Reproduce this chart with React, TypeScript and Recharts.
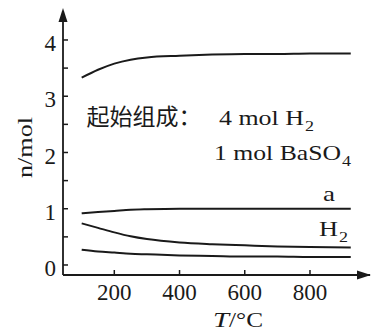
import { LineChart, Line, XAxis, YAxis } from "recharts";

const temps = [100, 150, 200, 250, 300, 400, 500, 600, 700, 800, 925];
const topCurve = [3.33, 3.47, 3.58, 3.65, 3.69, 3.72, 3.74, 3.75, 3.75, 3.76, 3.76];
const curveA = [0.92, 0.94, 0.96, 0.98, 0.99, 1.0, 1.0, 1.0, 1.0, 1.0, 1.0];
const curveH2 = [0.74, 0.66, 0.58, 0.51, 0.46, 0.4, 0.37, 0.35, 0.33, 0.32, 0.31];
const bottomCurve = [0.27, 0.24, 0.22, 0.2, 0.19, 0.17, 0.16, 0.15, 0.15, 0.14, 0.14];

const xTicks = [200, 400, 600, 800];
const yTicks = [0, 0.5, 1, 1.5, 2, 2.5, 3, 3.5, 4];

const data = temps.map((t, i) => ({
  t,
  top: topCurve[i],
  a: curveA[i],
  h2: curveH2[i],
  bottom: bottomCurve[i],
}));

const ink = "#1a1a1a";
const serif = "'Liberation Serif', 'DejaVu Serif', serif";
const cjk = "'Noto Sans CJK SC', sans-serif";
const MARGIN = 8;

function YTick(props: any) {
  const { x, y, payload } = props;
  const ax = x + MARGIN;
  const v = payload.value;
  const major = Number.isInteger(v);
  return (
    <g>
      <line x1={ax} y1={y} x2={ax + 5} y2={y} stroke={ink} strokeWidth={1.5} />
      {major && (
        <text x={ax - 7} y={y + 3} dy="0.35em" textAnchor="end" fontFamily={serif} fontSize={23} fill={ink}>
          {v}
        </text>
      )}
    </g>
  );
}

function XTick(props: any) {
  const { x, y, payload } = props;
  const ay = y - MARGIN;
  return (
    <g>
      <line x1={x} y1={ay} x2={x} y2={ay - 5} stroke={ink} strokeWidth={1.5} />
      <text x={x} y={ay + 9} dy="0.71em" textAnchor="middle" fontFamily={serif} fontSize={23} fill={ink}>
        {payload.value}
      </text>
    </g>
  );
}

// stretched serif text, the reference font runs wider than Liberation Serif
function Wide(props: any) {
  const { x, y, w, size = 22, italic, children } = props;
  return (
    <text
      x={x}
      y={y}
      fontFamily={serif}
      fontSize={size}
      fontStyle={italic ? "italic" : undefined}
      fill={ink}
      textLength={w}
      lengthAdjust="spacingAndGlyphs"
    >
      {children}
    </text>
  );
}

export default function App() {
  const lineProps = {
    type: "monotone" as const,
    stroke: ink,
    strokeWidth: 2,
    dot: false,
    isAnimationActive: false,
  };
  return (
    <div style={{ position: "absolute", left: 0, top: 0, width: 371, height: 331, background: "#fff" }}>
      <LineChart width={371} height={331} data={data} margin={{ top: 15, right: 1, bottom: 0, left: 0 }}>
        <XAxis
          dataKey="t"
          type="number"
          domain={[42.7, 984]}
          ticks={xTicks}
          height={56}
          tickSize={0}
          tickMargin={MARGIN}
          tick={<XTick />}
          axisLine={{ stroke: ink, strokeWidth: 1.8 }}
          allowDataOverflow
        />
        <YAxis
          type="number"
          domain={[-0.178, 4.444]}
          ticks={yTicks}
          width={63}
          tickSize={0}
          tickMargin={MARGIN}
          tick={<YTick />}
          axisLine={{ stroke: ink, strokeWidth: 1.8 }}
          allowDataOverflow
        />
        <Line dataKey="top" {...lineProps} />
        <Line dataKey="a" {...lineProps} />
        <Line dataKey="h2" {...lineProps} />
        <Line dataKey="bottom" {...lineProps} />
      </LineChart>
      <svg width={371} height={331} style={{ position: "absolute", left: 0, top: 0, pointerEvents: "none" }}>
        <polygon points="63,8 58.5,22 67.5,22" fill={ink} />
        <polygon points="371,275 357,270.5 357,279.5" fill={ink} />
        <g transform="translate(32,147.5) rotate(-90)">
          <Wide x={-30.5} y={0} w={61}>n/mol</Wide>
        </g>
        <Wide x={213} y={327} w={16} italic>T</Wide>
        <Wide x={229} y={327} w={34}>/°C</Wide>

        <text x={86.5} y={125} fontFamily={cjk} fontSize={23} fill={ink}>
          起始组成：
        </text>
        <Wide x={219} y={125} w={85}>4 mol H</Wide>
        <Wide x={305} y={131} w={9} size={15}>2</Wide>

        <Wide x={214} y={160} w={127}>1 mol BaSO</Wide>
        <Wide x={342} y={166} w={9} size={15}>4</Wide>

        <Wide x={323} y={201} w={12}>a</Wide>

        <Wide x={319} y={236} w={19}>H</Wide>
        <Wide x={339} y={242} w={9} size={15}>2</Wide>
      </svg>
    </div>
  );
}
